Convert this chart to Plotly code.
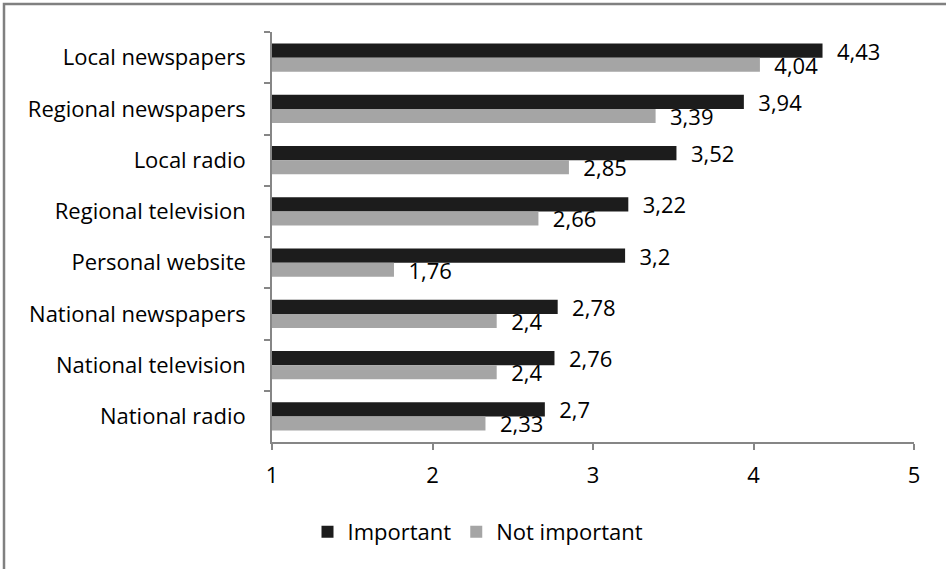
import plotly.graph_objects as go

categories = ["Local newspapers", "Regional newspapers", "Local radio", "Regional television",
              "Personal website", "National newspapers", "National television", "National radio"]
important = [4.43, 3.94, 3.52, 3.22, 3.2, 2.78, 2.76, 2.7]
not_important = [4.04, 3.39, 2.85, 2.66, 1.76, 2.4, 2.4, 2.33]

def fmt(v):
    return "\u00a0\u00a0" + ("%g" % v).replace(".", ",")

W, H = 946, 569
ML, MR, MT, MB = 272, 32, 32, 127
FONT = "Open Sans"
FS = 22

fig = go.Figure()
fig.add_trace(go.Bar(y=categories, x=important, orientation="h", name="Important",
                     marker=dict(color="#1c1c1c", line=dict(width=0)),
                     text=[fmt(v) for v in important], textposition="outside",
                     textfont=dict(size=FS, color="#000000", family=FONT),
                     cliponaxis=False, constraintext="none"))
fig.add_trace(go.Bar(y=categories, x=not_important, orientation="h", name="Not important",
                     marker=dict(color="#a5a5a5", line=dict(width=0)),
                     text=[fmt(v) for v in not_important], textposition="outside",
                     textfont=dict(size=FS, color="#000000", family=FONT),
                     cliponaxis=False, constraintext="none"))

pw = W - ML - MR
ph = H - MT - MB
fig.update_layout(
    width=W, height=H,
    margin=dict(l=ML, r=MR, t=MT, b=MB, pad=0),
    paper_bgcolor="white", plot_bgcolor="white",
    barmode="group", bargap=0.45, bargroupgap=0,
    font=dict(family=FONT, size=FS, color="#000000"),
    showlegend=True,
    legend=dict(orientation="h", x=(478 - ML) / pw, xanchor="center",
                y=-(532 - (MT + ph)) / ph, yanchor="middle",
                font=dict(size=FS, family=FONT), itemwidth=30, traceorder="normal"),
    xaxis=dict(range=[1, 5], dtick=1, tick0=1, showgrid=False, zeroline=False,
               showline=True, linecolor="#868686", linewidth=1.5,
               ticks="outside", ticklen=6, tickcolor="#868686", tickwidth=1.5,
               ticklabelstandoff=7, tickfont=dict(size=FS)),
    yaxis=dict(autorange="reversed", showgrid=False, zeroline=False,
               showline=True, linecolor="#868686", linewidth=1.5,
               ticks="outside", ticklen=6, tickcolor="#868686", tickwidth=1.5,
               tickson="boundaries", ticklabelstandoff=20, tickfont=dict(size=FS)),
    shapes=[dict(type="rect", xref="paper", yref="paper",
                 x0=(4 - ML) / pw, x1=(W + 20 - ML) / pw,
                 y0=-(H + 20 - MT - ph) / ph, y1=1 + (MT - 4) / ph,
                 line=dict(color="#808080", width=2.5), layer="below")],
)

fig.write_html("out.html", config={"displayModeBar": False},
               post_script="document.body.style.margin='0';document.body.style.overflow='hidden';")
